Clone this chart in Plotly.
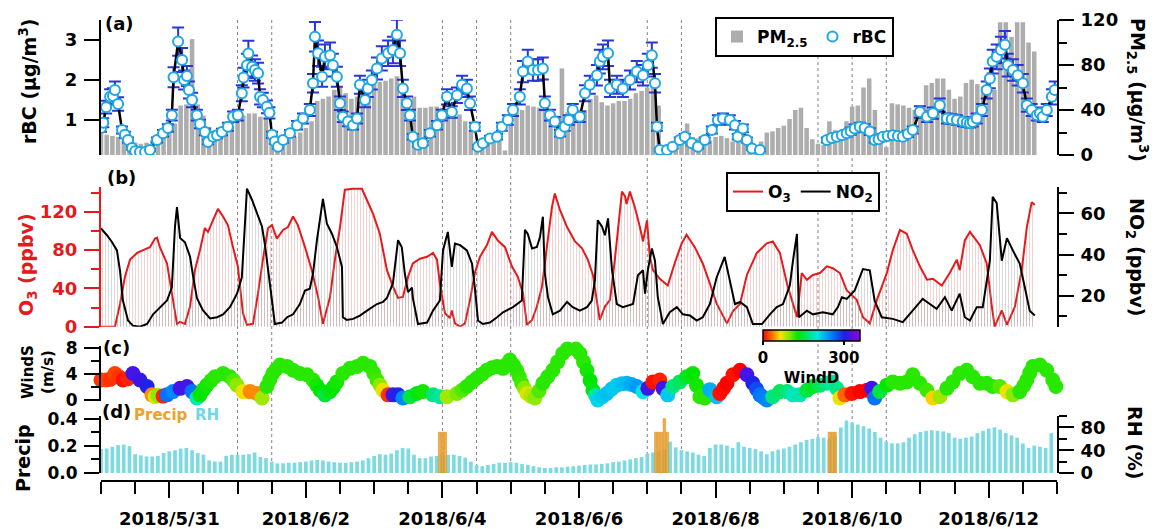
import plotly.graph_objects as go
from datetime import datetime, timedelta

# ---------------- DATA ----------------
T0 = datetime(2018, 5, 30)
T_END = datetime(2018, 6, 13)
STEP_H = 2  # sampling step (hours) of the PM2.5 and RH series

# PM2.5 (ug/m3), every 2 h from 2018-05-30 00:00
PM25 = [19, 18, 17, 16, 13, 12, 11, 10, 11, 13,
        16, 22, 24, 28, 44, 45, 103, 45, 35, 25,
        22, 22, 24, 26, 30, 35, 37, 37, 34, 32,
        18, 8, 12, 14, 16, 20, 24, 30, 48, 50,
        52, 58, 60, 55, 50, 52, 58, 60, 64, 65,
        66, 68, 70, 56, 50, 52, 42, 42, 43, 43,
        42, 40, 38, 36, 30, 22, 12, 12, 14, 14,
        16, 4, 36, 38, 40, 44, 43, 42, 40, 36,
        35, 77, 38, 37, 38, 40, 50, 53, 47, 44,
        46, 48, 48, 50, 55, 57, 60, 62, 44, 4,
        10, 10, 12, 28, 16, 15, 13, 13, 16, 17,
        15, 12, 12, 11, 9, 8, 12, 20, 21, 24,
        26, 32, 40, 42, 24, 14, 10, 9, 30, 22,
        14, 30, 43, 44, 60, 68, 40, 15, 7, 46,
        45, 44, 42, 40, 40, 62, 64, 68, 68, 58,
        50, 52, 64, 67, 63, 61, 60, 58, 118, 118,
        105, 118, 118, 100, 92]

# RH (%), every 2 h from 2018-05-30 00:00
RH = [42, 43, 46, 49, 50, 47, 33, 31, 29, 29,
      30, 35, 38, 40, 43, 44, 40, 35, 32, 22,
      20, 20, 30, 32, 32, 32, 33, 36, 28, 26,
      20, 17, 17, 18, 18, 19, 20, 22, 23, 22,
      20, 19, 18, 18, 19, 20, 22, 26, 30, 33,
      32, 34, 40, 44, 43, 32, 26, 26, 29, 30,
      32, 32, 32, 30, 27, 20, 14, 12, 14, 16,
      18, 18, 19, 18, 16, 14, 12, 10, 9, 9,
      10, 10, 11, 12, 13, 14, 15, 15, 16, 17,
      19, 20, 22, 24, 26, 28, 34, 36, 38, 42,
      55, 45, 40, 38, 36, 32, 30, 44, 50, 50,
      48, 44, 54, 46, 44, 42, 38, 33, 38, 41,
      43, 46, 50, 54, 58, 60, 63, 62, 60, 64,
      80, 92, 88, 85, 82, 78, 72, 62, 55, 52,
      52, 54, 62, 68, 72, 74, 75, 74, 73, 70,
      62, 60, 62, 64, 70, 74, 78, 80, 76, 70,
      66, 62, 52, 44, 48, 46, 44, 70]

# rBC (ug/m3): (hours since 2018-05-30 00:00, value); None = no data
RBC = [(0.0, 0.80), (0.8, 0.93), (1.8, 1.32), (3.2, 1.58), (4.2, 1.60), (4.9, 1.75), (6.0, 1.40),
       (7.4, 0.75), (8.4, 0.63), (9.5, 0.50), (10.9, 0.30), (12.0, 0.22), (13.7, 0.20), (15.5, 0.20),
       (17.2, 0.25), (19.7, 0.50), (21.8, 0.67), (23.5, 0.80), (24.9, 1.12), (25.5, 2.07), (27.1, 2.96),
       (28.5, 2.50), (29.2, 2.00), (30.2, 2.10), (30.9, 1.75), (32.0, 1.50), (33.7, 1.12), (34.8, 0.90),
       (36.5, 0.70), (37.6, 0.45), (39.4, 0.58), (40.8, 0.62), (42.5, 0.70), (44.6, 0.83), (46.4, 1.08),
       (48.1, 1.12), (49.5, 1.67), (50.1, 2.06), (51.3, 2.37), (51.8, 2.66), (53.1, 2.33), (54.1, 2.25),
       (55.2, 2.17), (55.9, 1.58), (56.9, 1.50), (58.3, 1.33), (59.2, 1.18), (60.1, 0.63), (61.1, 0.46),
       (62.2, 0.33), (64.0, 0.50), (66.4, 0.67), (68.9, 0.87), (71.0, 1.04), (73.4, 1.25), (74.5, 1.92),
       (75.2, 3.08), (76.3, 2.67), (77.7, 2.08), (78.7, 2.58), (80.5, 2.62), (81.5, 2.37), (82.9, 2.08),
       (84.0, 1.42), (85.0, 1.08), (86.8, 0.96), (88.6, 0.87), (90.0, 1.04), (91.0, 1.88), (92.8, 1.50),
       (93.8, 1.79), (95.2, 2.00), (97.0, 2.29), (98.7, 2.54), (100.9, 2.67), (102.6, 2.75), (104.0, 3.13),
       (105.1, 2.67), (106.1, 1.79), (107.5, 1.42), (108.6, 1.12), (109.6, 0.58), (111.4, 0.38),
       (113.1, 0.42), (115.6, 0.67), (118.1, 0.87), (119.8, 1.12), (121.6, 1.58), (123.3, 1.20),
       (125.1, 1.62), (126.9, 1.88), (128.6, 1.79), (129.7, 1.42), (131.4, 0.83), (132.5, 0.33),
       (134.2, 0.42), (136.7, 0.54), (139.2, 0.58), (140.9, 0.83), (143.0, 1.00), (144.8, 1.25),
       (147.2, 1.58), (148.3, 2.21), (150.0, 2.46), (151.8, 2.25), (153.6, 2.25), (155.3, 2.29),
       (156.0, 1.42), (157.8, 1.12), (159.5, 0.96), (161.3, 0.67), (163.0, 0.83), (164.4, 1.00),
       (165.8, 1.25), (168.3, 1.08), (170.1, 1.67), (171.8, 1.88), (174.3, 2.12), (175.3, 2.46),
       (176.4, 2.58), (178.2, 2.67), (178.9, 1.79), (181.3, 1.88), (183.4, 1.79), (185.9, 2.00),
       (188.3, 2.21), (190.5, 2.12), (192.2, 2.37), (193.6, 2.62), (194.7, 1.92), (195.4, 0.83),
       (196.4, 0.25), (198.9, 0.25), (200.9, 0.33), (203.4, 0.50), (205.2, 0.58), (207.6, 0.42),
       (209.8, 0.33), (212.2, 0.50), (214.7, 0.75), (216.8, 1.00), (218.6, 1.04), (221.0, 1.00),
       (222.8, 0.87), (223.8, 0.58), (225.6, 0.79), (227.0, 0.50), (228.8, 0.29), (231.6, 0.25),
       (243.0, None),
       (255.1, 0.50), (256.8, 0.55), (258.6, 0.58), (260.4, 0.62), (262.1, 0.67), (263.5, 0.72),
       (264.9, 0.79), (266.7, 0.83), (268.4, 0.80), (270.2, 0.71), (271.9, 0.50), (273.3, 0.52),
       (274.8, 0.58), (276.5, 0.60), (278.3, 0.62), (280.1, 0.60), (281.8, 0.58), (283.6, 0.65),
       (285.3, 0.75), (287.8, 1.20), (290.3, 1.08), (292.4, 1.17), (294.8, 1.37), (297.3, 1.04),
       (299.0, 1.02), (300.8, 1.00), (302.9, 0.96), (304.3, 0.94), (305.4, 0.92), (306.4, 0.95),
       (307.8, 1.04), (309.6, 1.25), (311.3, 1.75), (312.4, 2.04), (313.4, 2.46), (314.8, 2.58),
       (316.3, 2.75), (317.7, 2.88), (318.7, 2.37), (320.5, 2.25), (322.2, 2.12), (324.0, 1.92),
       (325.4, 1.37), (327.1, 1.25), (328.9, 1.12), (330.0, 1.17), (331.0, 1.08), (332.4, 1.25),
       (334.2, 1.58), (335.2, 1.75)]

# O3 (ppbv): (hours, value)
O3 = [(0, 0), (2.5, 0), (4.9, 0), (6.7, 24), (8.4, 52), (10.2, 70), (12.7, 77), (14.8, 80), (17.2, 83),
      (19.0, 92), (19.7, 93), (20.7, 83), (23.2, 66), (24.9, 35), (26.7, 3), (27.8, 5), (29.5, 3),
      (31.3, 21), (33.0, 59), (34.8, 80), (36.5, 103), (37.6, 99), (39.4, 111), (41.1, 123), (42.9, 115),
      (44.6, 106), (46.4, 83), (48.1, 63), (49.9, 14), (51.3, 2), (53.4, 3), (55.2, 35), (56.9, 70),
      (58.7, 103), (60.1, 106), (61.8, 92), (64.0, 101), (65.7, 104), (67.5, 115), (69.2, 106),
      (71.7, 83), (74.1, 59), (76.3, 31), (78.0, 3), (80.5, 31), (82.2, 70), (84.0, 104), (85.7, 143),
      (88.6, 144), (91.7, 144), (93.5, 132), (95.6, 118), (98.0, 97), (100.5, 59), (102.6, 42),
      (104.4, 30), (106.1, 31), (107.9, 52), (109.6, 66), (112.1, 71), (114.6, 73), (116.7, 77),
      (118.1, 70), (119.1, 45), (120.9, 14), (122.6, 9), (123.3, 17), (124.4, 3.5), (126.2, 0),
      (127.9, 3.5), (129.7, 28), (131.4, 56), (133.2, 73), (135.6, 85), (137.4, 99), (139.5, 90),
      (142.0, 83), (144.4, 63), (146.5, 52), (148.3, 35), (149.7, 2), (151.5, 7), (153.2, 21),
      (155.0, 42), (156.7, 83), (158.5, 125), (159.5, 139), (161.3, 122), (163.8, 104), (166.6, 89),
      (169.0, 82), (171.1, 70), (172.9, 54), (174.3, 28), (175.3, 7), (177.1, 21), (178.9, 28),
      (180.6, 70), (181.7, 104), (183.1, 141), (184.2, 136), (184.7, 128), (185.9, 141), (187.6, 125),
      (189.4, 104), (190.5, 89), (191.9, 111), (192.9, 73), (194.0, 59), (196.4, 50), (199.2, 43),
      (201.6, 66), (204.1, 87), (205.8, 96), (208.7, 83), (211.5, 66), (214.0, 45), (216.4, 24),
      (220.0, 3.5), (222.1, 16), (224.6, 24), (227.0, 54), (230.5, 77), (234.0, 87), (236.1, 89),
      (238.6, 77), (241.1, 45), (243.2, 24), (244.6, 10), (246.3, 56), (248.1, 49), (250.2, 54),
      (252.7, 56), (255.1, 63), (257.2, 61), (259.7, 56), (262.1, 38), (265.6, 28), (267.8, 10),
      (270.2, 3.5), (272.7, 28), (276.2, 56), (278.3, 80), (280.8, 101), (283.2, 97), (285.3, 80),
      (287.8, 63), (290.3, 49), (292.4, 50), (295.5, 43), (298.3, 56), (300.8, 70), (301.8, 59),
      (303.6, 90), (305.4, 99), (308.9, 85), (311.3, 66), (313.1, 21), (314.1, 0), (316.6, 17),
      (318.4, 2), (321.2, 21), (323.6, 59), (325.4, 104), (327.1, 130), (328.2, 127)]

# NO2 (ppbv): (hours, value)
NO2 = [(0, 52.7), (2.1, 49.4), (3.9, 46), (5.6, 42), (6.7, 32), (7.7, 17.7), (9.5, 8), (11.2, 5.5),
       (13.7, 5), (16.2, 6.3), (18.3, 11), (20.7, 14.5), (23.2, 17.7), (24.9, 24), (26.0, 53.5),
       (26.7, 63), (27.8, 48), (29.5, 46), (31.3, 39), (32.3, 30), (33.7, 19), (35.8, 13), (38.3, 9),
       (40.8, 9.6), (42.9, 11), (45.3, 14.5), (47.8, 21), (49.5, 29), (50.6, 56.7), (51.3, 72),
       (53.1, 66.5), (54.8, 60), (56.6, 53.5), (57.6, 45), (58.7, 34), (60.1, 17.7), (61.1, 6.3),
       (63.6, 7), (65.4, 9.6), (67.5, 11), (69.9, 16), (71.7, 22.6), (73.4, 23.4), (74.5, 30.7),
       (75.9, 47), (77.0, 56.7), (78.0, 67), (79.4, 55), (81.2, 50), (82.9, 43.7), (84.7, 34),
       (85.0, 9.6), (86.4, 8.3), (88.6, 8.8), (91.0, 10.4), (93.5, 12.8), (95.6, 14.5), (97.0, 16),
       (99.1, 17), (100.5, 19), (102.6, 26), (104.4, 47), (105.7, 43.7), (106.8, 30.7), (107.9, 21.8),
       (109.3, 24), (109.6, 19), (111.4, 6.3), (114.6, 7), (116.7, 12.8), (119.1, 17.7), (120.2, 42),
       (121.9, 51), (123.3, 34), (124.4, 45.4), (126.2, 44.6), (128.6, 42), (130.4, 35.6), (131.4, 24),
       (132.5, 8), (134.2, 6.3), (136.7, 7), (139.2, 9.6), (141.3, 12), (144.8, 14.5), (147.9, 17.7),
       (149.0, 52), (150.0, 50), (151.5, 43), (153.2, 43.7), (154.3, 48.6), (155.3, 58.4), (156.0, 30.7),
       (157.1, 19.3), (158.8, 11), (161.3, 12.8), (163.8, 17), (165.8, 14.5), (168.3, 12.8),
       (170.8, 14.5), (172.5, 17.7), (173.6, 27.5), (174.6, 56.7), (176.1, 53.5), (177.1, 49.4),
       (178.2, 57.6), (179.6, 32.4), (181.3, 16), (183.4, 14.5), (187.0, 16), (188.7, 30), (190.5, 32.4),
       (191.2, 21), (192.2, 32.4), (193.6, 43), (194.7, 37), (195.7, 19.3), (197.5, 6.3), (199.9, 12),
       (202.4, 14.5), (204.5, 11), (207.0, 10.4), (209.4, 8), (211.5, 9.6), (214.0, 16), (216.4, 29),
       (219.2, 38.9), (221.0, 27.5), (222.8, 16), (224.6, 17), (227.0, 14.5), (229.1, 6.3), (232.3, 6.3),
       (235.1, 11), (237.5, 14.5), (239.7, 16), (242.1, 25), (243.2, 37), (244.6, 50), (245.3, 9.6),
       (248.1, 12.8), (250.2, 11), (253.7, 12), (257.2, 11), (259.0, 14.5), (260.4, 19.3), (262.1, 18.5),
       (264.9, 22.6), (267.8, 33), (270.2, 32.4), (271.9, 17.7), (274.4, 9.6), (278.3, 8.8), (281.8, 7.2),
       (285.3, 12.8), (288.8, 18.5), (291.3, 16), (293.7, 13.7), (296.6, 19.3), (299.0, 12.8),
       (301.8, 21), (303.6, 9.6), (305.4, 8), (307.8, 14.5), (309.9, 14.5), (312.4, 37), (313.4, 68),
       (314.8, 65), (316.6, 37), (318.4, 48), (320.5, 42), (322.9, 35.6), (324.7, 24), (326.4, 12.8),
       (328.2, 10.4)]

# Wind: (hours, speed m/s, direction deg)
WIND = [(0.0, 3.1, 15), (1.8, 3.1, 20), (3.2, 3.2, 15), (4.9, 4.1, 20), (6.3, 3.6, 15), (7.7, 3.1, 5),
        (9.5, 3.3, 10), (11.2, 4.1, 320), (13.7, 3.1, 315), (16.2, 2.1, 300), (17.9, 0.8, 40),
        (19.0, 0.5, 75), (20.0, 0.7, 95), (21.8, 0.6, 10), (23.2, 0.8, 260), (25.3, 1.3, 250),
        (27.8, 1.8, 320), (30.2, 2.1, 320), (32.0, 1.3, 260), (33.7, 0.3, 190), (34.8, 0.8, 130),
        (36.0, 1.6, 128), (37.2, 2.3, 125), (38.7, 3.0, 122), (40.1, 3.6, 120), (42.9, 4.1, 120),
        (45.3, 3.6, 120), (46.6, 3.0, 110), (47.8, 2.3, 95), (49.9, 1.3, 70), (52.4, 1.3, 40),
        (54.8, 1.0, 40), (56.6, 0.3, 90), (58.3, 2.1, 120), (59.3, 3.1, 120), (60.4, 4.1, 120),
        (61.6, 4.8, 120), (62.9, 5.4, 120), (65.4, 5.2, 120), (67.5, 4.6, 120), (69.9, 4.1, 120),
        (72.4, 3.9, 120), (74.5, 3.1, 120), (75.8, 2.3, 125), (77.0, 1.5, 130), (78.7, 0.8, 150),
        (80.5, 1.3, 135), (81.7, 2.0, 130), (82.9, 2.8, 125), (85.0, 4.1, 120), (87.5, 4.9, 120),
        (90.0, 5.2, 120), (92.1, 5.7, 120), (94.5, 5.2, 120), (95.8, 4.2, 118), (97.0, 3.1, 115),
        (98.1, 2.3, 95), (99.1, 1.5, 70), (100.9, 0.8, 15), (102.6, 0.8, 320), (104.4, 0.8, 300),
        (106.1, 0.3, 250), (108.6, 0.5, 150), (111.0, 1.0, 135), (113.1, 1.3, 125), (116.7, 0.8, 170),
        (119.1, 0.5, 180), (121.6, 0.5, 90), (125.1, 1.0, 100), (126.9, 1.5, 110), (128.6, 2.1, 120),
        (130.4, 2.8, 120), (132.1, 3.4, 120), (133.9, 4.0, 120), (135.6, 4.6, 120), (137.4, 5.0, 120),
        (139.2, 5.2, 120), (141.3, 4.9, 120), (142.5, 5.5, 120), (143.7, 6.2, 120), (145.0, 5.4, 120),
        (146.1, 4.6, 120), (147.0, 3.6, 118), (147.9, 2.6, 115), (148.8, 1.8, 95), (149.7, 1.0, 75),
        (151.1, 0.6, 85), (152.5, 0.3, 95), (153.9, 1.4, 110), (155.3, 2.6, 120), (157.0, 3.6, 120),
        (158.8, 4.6, 120), (160.5, 5.9, 120), (162.3, 7.2, 120), (163.9, 7.9, 120), (165.5, 8.5, 120),
        (166.9, 7.9, 120), (168.3, 7.2, 120), (169.6, 5.9, 120), (170.8, 4.6, 125), (171.9, 3.0, 130),
        (172.9, 1.5, 135), (173.8, 0.7, 180), (174.6, 0.0, 210), (176.2, 0.5, 215), (177.8, 1.0, 220),
        (179.5, 1.7, 218), (181.3, 2.3, 215), (183.0, 2.5, 220), (184.8, 2.6, 225), (186.5, 2.4, 232),
        (188.3, 2.1, 240), (190.5, 1.3, 200), (192.2, 1.8, 320), (194.0, 2.8, 5), (196.4, 3.1, 10),
        (197.5, 1.8, 320), (199.2, 0.8, 215), (201.0, 2.1, 170), (203.4, 2.8, 160), (205.8, 3.6, 140),
        (208.0, 4.1, 130), (209.3, 2.3, 125), (210.5, 0.5, 120), (212.2, 0.3, 120), (214.0, 1.6, 230),
        (216.4, 0.5, 220), (217.5, 1.0, 5), (218.8, 1.8, 3), (220.0, 2.6, 0), (222.1, 3.9, 5),
        (224.6, 4.6, 0), (227.0, 3.9, 320), (229.1, 2.6, 300), (230.4, 1.7, 280), (231.6, 0.8, 260),
        (232.8, 0.4, 255), (234.0, 0.0, 250), (236.1, 0.5, 170), (238.6, 1.3, 160), (241.1, 1.3, 170),
        (243.2, 0.8, 190), (245.6, 0.8, 185), (248.1, 1.5, 150), (250.2, 2.1, 140), (252.7, 2.3, 160),
        (255.1, 2.6, 175), (256.8, 2.8, 180), (258.6, 1.8, 175), (259.7, 0.3, 70), (261.4, 0.8, 30),
        (263.9, 1.0, 5), (266.7, 1.3, 0), (269.2, 1.5, 0), (270.9, 1.8, 320), (271.9, 0.3, 260),
        (273.7, 1.3, 150), (276.2, 2.3, 130), (278.3, 2.8, 120), (280.8, 2.6, 120), (283.2, 2.8, 120),
        (285.3, 3.9, 120), (287.8, 2.6, 120), (290.3, 1.5, 115), (292.4, 0.3, 60), (294.8, 0.5, 90),
        (297.3, 1.8, 120), (299.4, 2.8, 120), (301.8, 4.1, 120), (304.3, 4.6, 120), (306.4, 3.6, 120),
        (308.9, 2.6, 120), (311.3, 2.6, 120), (313.4, 2.1, 120), (315.9, 2.1, 110), (318.4, 1.3, 70),
        (320.5, 0.8, 95), (322.9, 1.3, 120), (324.3, 2.2, 120), (325.4, 3.1, 120), (326.4, 4.2, 120),
        (327.5, 5.2, 120), (330.0, 5.4, 120), (332.4, 4.6, 120), (334.5, 3.1, 120), (335.6, 2.1, 120)]

# Precipitation: (hours, value)
PRECIP = [(119, 0.3), (120, 0.3), (121, 0.3), (195, 0.3), (196, 0.3), (197, 0.3), (198, 0.4),
          (199, 0.3), (256, 0.3), (257, 0.3), (258, 0.3)]

# Event markers (hours since start) drawn as dotted vertical lines
EVENT_HOURS = [48, 60, 120, 132, 144, 192, 204, 252, 264, 276]


# ---------------- HELPERS ----------------
def ts(hours):
    return [T0 + timedelta(hours=h) for h in hours]


W, H = 1160, 529


def px(x):
    return x / W


def py(y):
    return 1 - y / H


HOUR_MS = 3600 * 1000
X_DOM = [px(101), px(1057)]
A_DOM = [py(155), py(20)]
B_DOM = [py(326.7), py(187)]
C_DOM = [py(401), py(346)]
D_DOM = [py(473), py(416)]

RED = '#E41A1C'
FONT = dict(family='DejaVu Sans', size=18, color='black', weight='bold')

WIND_CS = [[0.0, 'rgb(255,0,0)'], [0.09, 'rgb(255,110,0)'], [0.18, 'rgb(255,225,0)'],
           [0.28, 'rgb(120,235,0)'], [0.36, 'rgb(0,230,0)'], [0.46, 'rgb(0,230,110)'],
           [0.56, 'rgb(0,230,230)'], [0.70, 'rgb(0,130,255)'], [0.84, 'rgb(30,30,230)'],
           [1.0, 'rgb(150,0,230)']]

fig = go.Figure()

# ---- (a) PM2.5 bars + rBC ----
fig.add_trace(go.Bar(
    x=ts([i * STEP_H for i in range(len(PM25))]), y=PM25, width=1.6 * HOUR_MS,
    marker=dict(color='#ADADAD', line=dict(width=0)), name='PM<sub>2.5</sub>',
    xaxis='x', yaxis='y', legend='legend'))
fig.add_trace(go.Scatter(
    x=ts([p[0] for p in RBC]), y=[p[1] for p in RBC], mode='lines+markers',
    line=dict(color='black', width=2.5),
    marker=dict(size=10, color='white', line=dict(color='#1EA7E1', width=2)),
    error_y=dict(type='percent', value=12, color='#2A36D8', thickness=2, width=6),
    xaxis='x', yaxis='y2', showlegend=False))
fig.add_trace(go.Scatter(
    x=[None], y=[None], mode='markers', name='rBC',
    marker=dict(size=10, color='white', line=dict(color='#1EA7E1', width=2)),
    xaxis='x', yaxis='y2', legend='legend'))

# ---- (b) O3 + NO2 ----
fig.add_trace(go.Scatter(
    x=ts([p[0] for p in O3]), y=[p[1] for p in O3], mode='lines',
    line=dict(color=RED, width=2), fill='tozeroy', fillcolor='rgba(0,0,0,0)',
    fillpattern=dict(shape='|', size=3, solidity=0.3, fgcolor='rgba(225,130,130,0.4)',
                     bgcolor='rgba(0,0,0,0)', fillmode='replace'),
    xaxis='x2', yaxis='y3', showlegend=False))
fig.add_trace(go.Scatter(
    x=ts([p[0] for p in NO2]), y=[p[1] for p in NO2], mode='lines',
    line=dict(color='black', width=2), fill='tozeroy', fillcolor='rgba(0,0,0,0)',
    fillpattern=dict(shape='|', size=3, solidity=0.3, fgcolor='rgba(150,150,150,0.4)',
                     bgcolor='rgba(0,0,0,0)', fillmode='replace'),
    xaxis='x2', yaxis='y4', showlegend=False))
fig.add_trace(go.Scatter(x=[None], y=[None], mode='lines', name='O<sub>3</sub>',
                         line=dict(color=RED, width=2), xaxis='x2', yaxis='y3', legend='legend2'))
fig.add_trace(go.Scatter(x=[None], y=[None], mode='lines', name='NO<sub>2</sub>',
                         line=dict(color='black', width=2), xaxis='x2', yaxis='y4', legend='legend2'))

# ---- (c) wind ----
fig.add_trace(go.Scatter(
    x=ts([p[0] for p in WIND]), y=[p[1] for p in WIND], mode='markers',
    marker=dict(size=15, color=[p[2] for p in WIND], colorscale=WIND_CS, cmin=0, cmax=360,
                line=dict(width=0),
                colorbar=dict(orientation='h', x=px(811.5), xanchor='center', y=py(330), yanchor='top',
                              len=97, lenmode='pixels', thickness=11, thicknessmode='pixels',
                              outlinewidth=1.5, outlinecolor='black', xpad=0, ypad=0,
                              tickvals=[0, 300], ticks='outside', ticklen=4, tickwidth=1.5,
                              tickcolor='black', tickfont=dict(size=15),
                              title=dict(text='WindD', side='bottom', font=dict(size=15)))),
    xaxis='x3', yaxis='y5', showlegend=False, cliponaxis=False))

# ---- (d) RH + precip ----
fig.add_trace(go.Bar(
    x=ts([i * STEP_H for i in range(len(RH))]), y=RH, width=1.3 * HOUR_MS,
    marker=dict(color='rgb(125,218,224)', line=dict(width=0)),
    xaxis='x4', yaxis='y6', showlegend=False))
fig.add_trace(go.Bar(
    x=ts([p[0] for p in PRECIP]), y=[p[1] for p in PRECIP], width=0.9 * HOUR_MS,
    marker=dict(color='rgba(233,160,45,0.85)', line=dict(color='rgb(220,140,30)', width=0.5)),
    xaxis='x4', yaxis='y7', showlegend=False))

# ---------------- AXES ----------------
AX = dict(showgrid=False, zeroline=False, showline=True, linewidth=2, linecolor='black',
          ticks='outside', ticklen=15, tickwidth=2, tickcolor='black', ticklabelstandoff=3,
          automargin=False)


def minor(d, color='black'):
    return dict(dtick=d, ticks='outside', ticklen=8, tickwidth=2, tickcolor=color)


XHID = dict(domain=X_DOM, type='date', range=[T0, T_END], showline=False, showticklabels=False,
            ticks='', showgrid=False, zeroline=False, automargin=False)

fig.update_layout(
    width=W, height=H, autosize=False, margin=dict(l=0, r=0, t=0, b=0, pad=0),
    paper_bgcolor='white', plot_bgcolor='white', barmode='overlay', font=FONT,
    xaxis=dict(anchor='y', **XHID),
    xaxis2=dict(anchor='y3', matches='x', **XHID),
    xaxis3=dict(anchor='y5', matches='x', **XHID),
    xaxis4=dict(domain=X_DOM, type='date', range=[T0, T_END], matches='x', anchor='free',
                position=py(481), showline=True, linewidth=2, linecolor='black', showgrid=False,
                zeroline=False, tickformat='%Y/%-m/%-d', tick0='2018-05-31', dtick=2 * 86400000,
                ticks='outside', ticklen=16, tickwidth=2, tickcolor='black', ticklabelstandoff=5,
                automargin=False,
                minor=dict(dtick=43200000, tick0='2018-05-30', ticks='outside', ticklen=12,
                           tickwidth=2, tickcolor='black')),
    yaxis=dict(domain=A_DOM, anchor='x', side='right', range=[0, 120], dtick=40, minor=minor(20), **AX),
    yaxis2=dict(overlaying='y', anchor='x', side='left', range=[0.125, 3.5], dtick=1, **AX),
    yaxis3=dict(domain=B_DOM, anchor='x2', side='left', range=[0, 145.8], dtick=40,
                minor=minor(20, RED), **{**AX, 'linecolor': RED, 'tickcolor': RED},
                tickfont=dict(color=RED)),
    yaxis4=dict(overlaying='y3', anchor='x2', side='right', range=[5, 72.8], tick0=0, dtick=20,
                minor=minor(10), **AX),
    yaxis5=dict(domain=C_DOM, anchor='x3', side='left', range=[-0.155, 8.36], dtick=4,
                minor=minor(2), tickfont=dict(size=17), **AX),
    yaxis6=dict(domain=D_DOM, anchor='x4', side='right', range=[0, 100], dtick=40,
                minor=minor(20), **AX),
    yaxis7=dict(overlaying='y6', anchor='x4', side='left', range=[0, 0.419], dtick=0.2,
                tickformat='.1f', minor=minor(0.1), tickfont=dict(size=17), **AX),
    legend=dict(x=px(715), y=py(17), xanchor='left', yanchor='top', orientation='h',
                bgcolor='white', bordercolor='black', borderwidth=2, font=dict(size=17)),
    legend2=dict(x=px(726), y=py(172), xanchor='left', yanchor='top', orientation='h',
                 bgcolor='white', bordercolor='black', borderwidth=2, font=dict(size=17)),
)

# dotted event lines
for h in EVENT_HOURS:
    t = T0 + timedelta(hours=h)
    fig.add_shape(type='line', xref='x', yref='paper', x0=t, x1=t, y0=py(473), y1=py(20),
                  line=dict(color='rgba(90,90,90,0.75)', width=1, dash='dot'), layer='below')


# ---------------- TEXT ----------------
def note(text, x, y, angle=0, size=18, color='black'):
    fig.add_annotation(text=text, x=px(x), y=py(y), xref='paper', yref='paper', showarrow=False,
                       xanchor='center', yanchor='middle', textangle=angle,
                       font=dict(size=size, color=color))


note('rBC (μg/m<sup>3</sup>)', 28, 82, -90, 19)
note('PM<sub>2.5</sub> (μg/m<sup>3</sup>)', 1137, 90, 90, 19)
note('O<sub>3</sub> (ppbv)', 27, 265, -90, 19, RED)
note('NO<sub>2</sub> (ppbv)', 1136, 257, 90, 19)
note('WindS<br>(m/s)', 38, 372, -90, 15)
note('Precip', 23, 458, -90, 19)
note('RH (%)', 1135, 443, 90, 19)
note('(a)', 119, 24)
note('(b)', 121, 177)
note('(c)', 116, 347)
note('(d)', 117, 411)
note('Precip', 161, 415, 0, 15, '#F0A030')
note('RH', 207, 415, 0, 15, '#6ED8E6')

fig.write_html('out.html')
